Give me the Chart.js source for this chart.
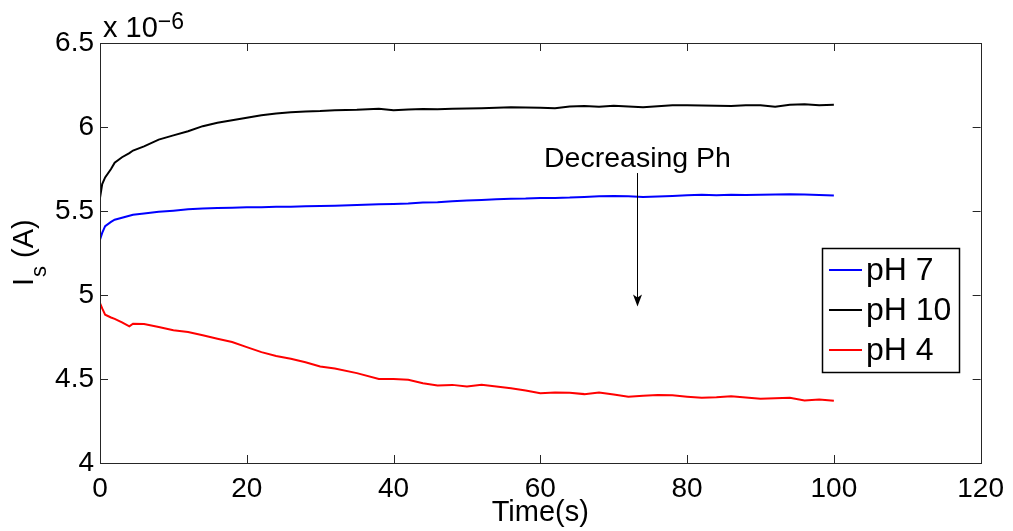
<!DOCTYPE html>
<html>
<head>
<meta charset="utf-8">
<style>
html,body{margin:0;padding:0;background:#fff;}
#wrap{width:1013px;height:531px;position:relative;}
canvas{display:block;}
</style>
<script src="https://cdn.jsdelivr.net/npm/chart.js@4/dist/chart.umd.min.js"></script>
</head>
<body>
<div id="wrap"><canvas id="c" width="1013" height="531"></canvas></div>
<script>
// ---- data (current in units of 10^-6 A) ----
const timeS = [0,0.3,0.7,1.5,2,3,4,4.5,6,8,10,12,14,16,18,20,22,24,26,28,30,32,35,38,40,42,44,46,48,50,52,54,56,58,60,62,64,66,68,70,72,74,76,78,80,82,84,86,88,90,92,94,96,98,100];
const ph7 = [5.329,5.37,5.41,5.435,5.448,5.46,5.472,5.478,5.485,5.495,5.502,5.51,5.515,5.518,5.52,5.522,5.523,5.526,5.525,5.528,5.53,5.531,5.535,5.54,5.542,5.545,5.55,5.552,5.558,5.562,5.566,5.57,5.573,5.574,5.577,5.578,5.58,5.584,5.588,5.59,5.588,5.583,5.586,5.59,5.594,5.596,5.594,5.596,5.595,5.597,5.598,5.6,5.598,5.595,5.592];
const ph10 = [5.578,5.66,5.70,5.75,5.787,5.82,5.845,5.86,5.885,5.925,5.95,5.975,6.005,6.025,6.04,6.055,6.07,6.08,6.088,6.092,6.095,6.1,6.102,6.108,6.1,6.104,6.107,6.105,6.108,6.11,6.112,6.115,6.118,6.116,6.114,6.112,6.122,6.125,6.121,6.127,6.122,6.118,6.124,6.13,6.13,6.128,6.126,6.125,6.13,6.13,6.121,6.133,6.135,6.13,6.132];
const ph4 = [4.952,4.92,4.883,4.866,4.858,4.837,4.813,4.829,4.828,4.81,4.79,4.78,4.76,4.74,4.72,4.69,4.66,4.637,4.62,4.6,4.575,4.562,4.535,4.5,4.5,4.495,4.475,4.462,4.465,4.455,4.465,4.455,4.445,4.432,4.415,4.42,4.418,4.41,4.42,4.408,4.395,4.4,4.405,4.403,4.395,4.388,4.391,4.397,4.39,4.382,4.385,4.388,4.372,4.378,4.37];
const seriesLabels = ['pH 7','pH 10','pH 4'];
const seriesColors = ['#0000ff','#000000','#ff0000'];
const xTickValues = [0,20,40,60,80,100,120];
const yTickValues = [4,4.5,5,5.5,6,6.5];
const yExponent = '\u22126';
const xTitle = 'Time(s)';
const yTitleMain = 'I', yTitleSub = 's', yTitleRest = ' (A)';
const annotation = {text:'Decreasing Ph', x:73.2, yText:5.763, yFrom:5.726, yTo:4.932};

const FONT = '"Liberation Sans", Arial, Helvetica, sans-serif';
const AXIS = '#262626';

function toPoints(vals){ return timeS.map((t,i)=>({x:t,y:vals[i]})); }
const allSeries = [ph7, ph10, ph4];

const decorPlugin = {
  id:'decor',
  afterDraw(chart){
    const ctx = chart.ctx, xs = chart.scales.x, ys = chart.scales.y;
    const a = chart.chartArea;
    ctx.save();
    // box
    ctx.strokeStyle = AXIS; ctx.lineWidth = 1;
    ctx.strokeRect(Math.round(a.left)+0.5, Math.round(a.top)+0.5, Math.round(a.right-a.left), Math.round(a.bottom-a.top));
    // inward ticks
    const tl = 8;
    ctx.beginPath();
    xTickValues.forEach(v=>{
      const px = Math.round(xs.getPixelForValue(v))+0.5;
      ctx.moveTo(px, a.bottom); ctx.lineTo(px, a.bottom-tl);
      ctx.moveTo(px, a.top); ctx.lineTo(px, a.top+tl);
    });
    yTickValues.forEach(v=>{
      const py = Math.round(ys.getPixelForValue(v))+0.5;
      ctx.moveTo(a.left, py); ctx.lineTo(a.left+tl, py);
      ctx.moveTo(a.right, py); ctx.lineTo(a.right-tl, py);
    });
    ctx.stroke();

    // exponent label
    ctx.fillStyle = '#000';
    ctx.textBaseline = 'alphabetic'; ctx.textAlign = 'left';
    ctx.font = '29px ' + FONT;
    ctx.fillText('x 10', a.left + 3, 37);
    const w10 = ctx.measureText('x 10').width;
    ctx.font = '23px ' + FONT;
    ctx.fillText(yExponent, a.left + 3 + w10, 29);

    // y title with subscript
    ctx.save();
    ctx.translate(33, 286);
    ctx.rotate(-Math.PI/2);
    ctx.font = '29px ' + FONT;
    ctx.fillText(yTitleMain, 0, 0);
    let wI = ctx.measureText(yTitleMain).width;
    ctx.font = '22px ' + FONT;
    ctx.fillText(yTitleSub, wI + 1, 13);
    let wS = ctx.measureText(yTitleSub).width;
    ctx.font = '29px ' + FONT;
    ctx.fillText(yTitleRest, wI + wS + 1, 0);
    ctx.restore();

    // annotation
    const ax = Math.round(xs.getPixelForValue(annotation.x)) + 0.5;
    ctx.font = '28.5px ' + FONT;
    ctx.textAlign = 'center';
    ctx.fillText(annotation.text, ax, ys.getPixelForValue(annotation.yText));
    const y0 = ys.getPixelForValue(annotation.yFrom), y1 = ys.getPixelForValue(annotation.yTo);
    ctx.beginPath(); ctx.strokeStyle = '#000'; ctx.lineWidth = 1;
    ctx.moveTo(ax, y0); ctx.lineTo(ax, y1 - 6); ctx.stroke();
    ctx.beginPath();
    ctx.moveTo(ax, y1);
    ctx.lineTo(ax - 4.5, y1 - 12);
    ctx.lineTo(ax, y1 - 9);
    ctx.lineTo(ax + 4.5, y1 - 12);
    ctx.closePath(); ctx.fillStyle = '#000'; ctx.fill();

    // legend
    const lx = 822, ly = 248, lw = 137, lh = 124;
    ctx.fillStyle = '#fff';
    ctx.fillRect(lx, ly, lw, lh);
    ctx.strokeStyle = '#000'; ctx.lineWidth = 1.5;
    ctx.strokeRect(lx+0.5, ly+0.5, lw, lh);
    const rows = [270, 310, 350];
    ctx.font = '32px ' + FONT; ctx.textAlign = 'left'; ctx.textBaseline = 'middle';
    seriesLabels.forEach((lab,i)=>{
      ctx.beginPath(); ctx.strokeStyle = seriesColors[i]; ctx.lineWidth = 2;
      ctx.moveTo(829, rows[i]); ctx.lineTo(862, rows[i]); ctx.stroke();
      ctx.fillStyle = '#000';
      ctx.fillText(lab, 866, rows[i] + 1);
    });
    ctx.restore();
  }
};

new Chart(document.getElementById('c'), {
  type:'scatter',
  data:{
    datasets: seriesLabels.map((lab,i)=>({
      label: lab,
      data: toPoints(allSeries[i]),
      showLine: true,
      borderColor: seriesColors[i],
      backgroundColor: seriesColors[i],
      borderWidth: 2,
      pointRadius: 0,
      tension: 0
    }))
  },
  options:{
    responsive:false,
    animation:false,
    devicePixelRatio:1,
    layout:{padding:{left:0, top:43, right:27, bottom:0}},
    plugins:{legend:{display:false}, tooltip:{enabled:false}},
    scales:{
      x:{
        type:'linear', min:0, max:120,
        afterBuildTicks(s){ s.ticks = xTickValues.map(v=>({value:v})); },
        afterFit(s){ s.height = 68; },
        grid:{display:false, drawTicks:false},
        border:{display:false},
        ticks:{padding:9, color:'#000', font:{family:FONT, size:28}, maxRotation:0, autoSkip:false,
               callback:v=>String(v)},
        title:{display:true, text:xTitle, color:'#000', font:{family:FONT, size:29}, padding:{top:0,bottom:1}}
      },
      y:{
        type:'linear', min:4, max:6.5,
        afterBuildTicks(s){ s.ticks = yTickValues.map(v=>({value:v})); },
        afterFit(s){ s.width = 100; },
        grid:{display:false, drawTicks:false},
        border:{display:false},
        ticks:{padding:6, color:'#000', font:{family:FONT, size:28}, autoSkip:false,
               callback:v=>String(+v.toFixed(2))}
      }
    }
  },
  plugins:[decorPlugin]
});
</script>
</body>
</html>
